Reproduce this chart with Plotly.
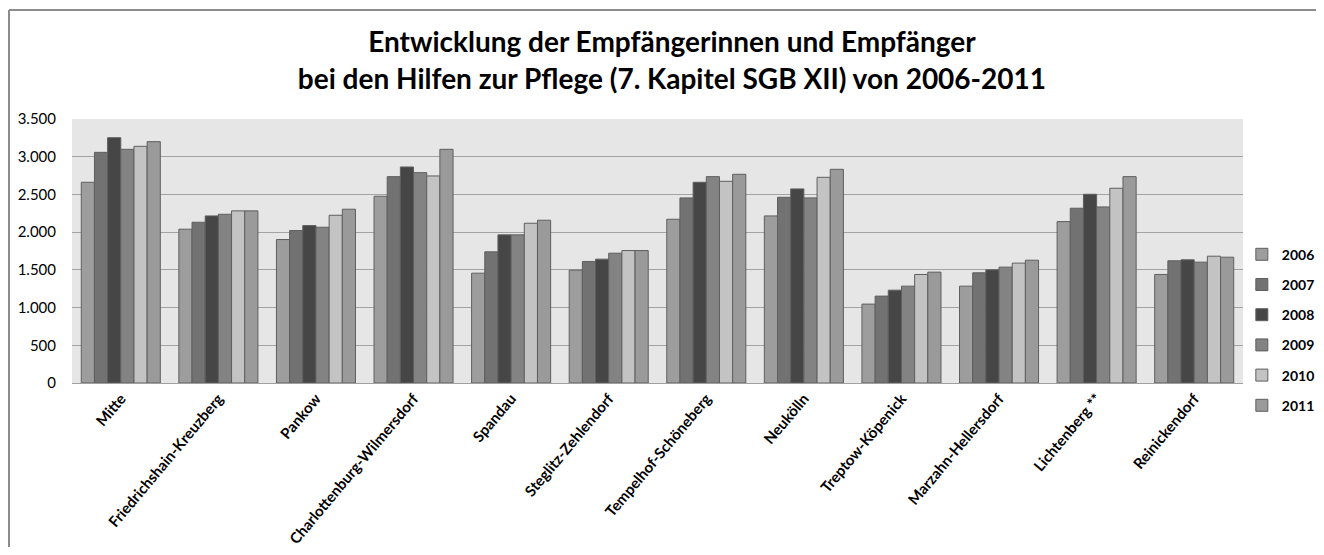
import plotly.graph_objects as go

districts = ["Mitte", "Friedrichshain-Kreuzberg", "Pankow", "Charlottenburg-Wilmersdorf",
             "Spandau", "Steglitz-Zehlendorf", "Tempelhof-Schöneberg", "Neukölln",
             "Treptow-Köpenick", "Marzahn-Hellersdorf", "Lichtenberg **", "Reinickendorf"]

v2006 = [2661, 2039, 1902, 2476, 1456, 1496, 2171, 2215, 1046, 1284, 2140, 1439]
v2007 = [3058, 2131, 2021, 2736, 1739, 1611, 2454, 2462, 1152, 1461, 2317, 1620]
v2008 = [3252, 2215, 2087, 2864, 1964, 1642, 2661, 2573, 1231, 1500, 2502, 1633]
v2009 = [3098, 2237, 2065, 2789, 1964, 1721, 2736, 2454, 1284, 1536, 2334, 1602]
v2010 = [3138, 2282, 2224, 2745, 2118, 1756, 2674, 2727, 1439, 1589, 2582, 1681]
v2011 = [3200, 2282, 2304, 3098, 2158, 1756, 2767, 2833, 1470, 1628, 2736, 1668]

years = ["2006", "2007", "2008", "2009", "2010", "2011"]
series = [v2006, v2007, v2008, v2009, v2010, v2011]
colors = ["#9d9d9d", "#727272", "#464646", "#838383", "#c3c3c3", "#9a9a9a"]

fig = go.Figure()
for yr, vals, col in zip(years, series, colors):
    fig.add_trace(go.Bar(
        x=districts, y=vals, name=yr, legendgroup=yr,
        marker=dict(color=col, line=dict(color="#5f5f5f", width=1)),
    ))

# the page body adds an 8px margin; the figure is sized to fit inside it
fig.update_layout(
    width=1308, height=539,
    paper_bgcolor="white", plot_bgcolor="#e6e6e6",
    margin=dict(l=64, r=73, t=111, b=164, autoexpand=False),
    barmode="group", bargap=0.19, bargroupgap=0,
    separators=",.",
    font=dict(family="Lato, Open Sans, sans-serif", color="black"),
    title=dict(
        text="<b>Entwicklung der Empfängerinnen und Empfänger<br>bei den Hilfen zur Pflege (7. Kapitel SGB XII) von 2006-2011</b>",
        x=0.5076, xanchor="center", xref="container", y=0.9176, yanchor="top",
        font=dict(size=28, family="Lato, Open Sans, sans-serif", color="black"),
    ),
    legend=dict(
        x=0.999, xanchor="left", y=0.2, yanchor="middle",
        font=dict(size=14, family="Lato, sans-serif", color="black", weight="bold"),
        tracegroupgap=9, bgcolor="rgba(0,0,0,0)",
        itemwidth=30,
    ),
)

fig.update_xaxes(
    tickangle=-50, tickfont=dict(size=15, family="Lato, sans-serif", color="black", weight="bold"),
    showline=True, linecolor="#a0a0a0", linewidth=1, ticks="",
    showgrid=False, automargin=False,
)
fig.update_yaxes(
    range=[0, 3500], dtick=500, tickformat=",d",
    tickfont=dict(size=15, family="Lato, sans-serif", color="black"),
    gridcolor="#a3a3a3", gridwidth=1, showline=False, zeroline=False,
    ticks="", ticklabelstandoff=15, automargin=False,
)

# chart-area border: top and left edges (right and bottom fall outside the view)
bx = -63 / 1171
by = 1 + 109 / 264
fig.add_shape(type="line", xref="paper", yref="paper",
              x0=bx, x1=1.2, y0=by, y1=by,
              line=dict(color="#8c8c8c", width=2), layer="below")
fig.add_shape(type="line", xref="paper", yref="paper",
              x0=bx, x1=bx, y0=-0.8, y1=by,
              line=dict(color="#8c8c8c", width=2), layer="below")

fig.write_html("out.html")
